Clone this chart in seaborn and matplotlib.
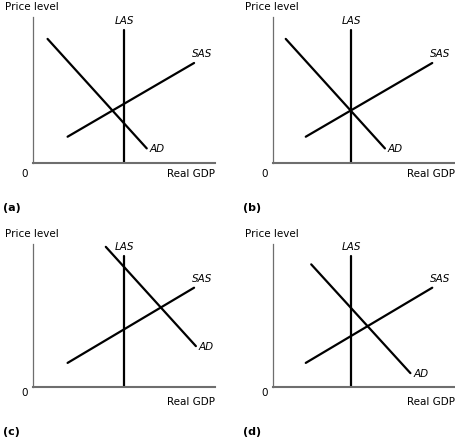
import matplotlib
matplotlib.use("Agg")
import matplotlib.pyplot as plt
import seaborn as sns
import pandas as pd

# four AD-AS panels, (a) to (d)
panel_tags = ["(a)", "(b)", "(c)", "(d)"]
las_x = [5.0, 4.3, 5.0, 4.3]
las_top = [9.1, 9.1, 9.0, 9.0]
ad_x = [[0.8, 6.25], [0.7, 6.15], [4.0, 8.95], [2.1, 7.55]]
ad_y = [[8.5, 1.0], [8.5, 1.0], [9.6, 2.8], [8.4, 0.95]]
sas_x = [[1.9, 8.85], [1.8, 8.75], [1.9, 8.85], [1.8, 8.75]]
sas_y = [[1.8, 6.85], [1.8, 6.85], [1.65, 6.8], [1.65, 6.8]]

W, H = 455, 437
sns.set_theme(style="white")
plt.rcParams["font.family"] = ["DejaVu Sans"]
plt.rcParams["text.color"] = "black"

fig = plt.figure(figsize=(W / 100, H / 100), dpi=100)

# pixel origin of each panel and height of its y-axis
origins = [(33, 163, 146), (273, 163, 146), (33, 387, 143), (273, 387, 143)]
px_per_unit_y = 14.6


def fx(px):
    return px / W


def fy(py):
    return 1 - py / H


for i, (ox, oy, h) in enumerate(origins):
    ax = fig.add_axes([fx(ox), fy(oy), 182 / W, h / H])
    ax.set_xlim(0, 10)
    ax.set_ylim(0, h / px_per_unit_y)

    df_ad = pd.DataFrame({"x": ad_x[i], "y": ad_y[i]})
    df_sas = pd.DataFrame({"x": sas_x[i], "y": sas_y[i]})
    df_las = pd.DataFrame({"x": [las_x[i], las_x[i]], "y": [0, las_top[i]]})
    for d in (df_ad, df_sas, df_las):
        sns.lineplot(data=d, x="x", y="y", ax=ax, color="black", linewidth=1.6,
                     sort=False, estimator=None)

    ax.set_xlabel("")
    ax.set_ylabel("")
    ax.set_xticks([])
    ax.set_yticks([])
    for s in ("top", "right"):
        ax.spines[s].set_visible(False)
    ax.spines["left"].set_color("#6e6e6e")
    ax.spines["left"].set_linewidth(0.9)
    ax.spines["bottom"].set_color("#6e6e6e")
    ax.spines["bottom"].set_linewidth(1.5)

    # curve labels
    ax.text(las_x[i], las_top[i] + 0.25, "LAS", style="italic", fontsize=7.5,
            ha="center", va="bottom", color="black")
    ax.text(sas_x[i][1] - 0.1, sas_y[i][1] + 0.25, "SAS", style="italic", fontsize=7.5,
            ha="left", va="bottom", color="black")
    ax.text(ad_x[i][1] + 0.15, ad_y[i][1] - 0.05, "AD", style="italic", fontsize=7.5,
            ha="left", va="center", color="black")

    # axis texts
    lower = i >= 2
    fig.text(fx(ox - 28), fy(oy - 156 + (146 - h)), "Price level", fontsize=7.5,
             ha="left", va="center")
    fig.text(fx(ox - 8), fy(oy + (6 if lower else 11)), "0", fontsize=7.5,
             ha="center", va="center")
    fig.text(fx(ox + 182), fy(oy + (15 if lower else 11)),
             "Real GDP", fontsize=7.5, ha="right", va="center")
    fig.text(fx(ox - 30), fy(oy + 45), panel_tags[i], fontsize=8, fontweight="bold",
             ha="left", va="center")

fig.savefig("out.png", dpi=100)
